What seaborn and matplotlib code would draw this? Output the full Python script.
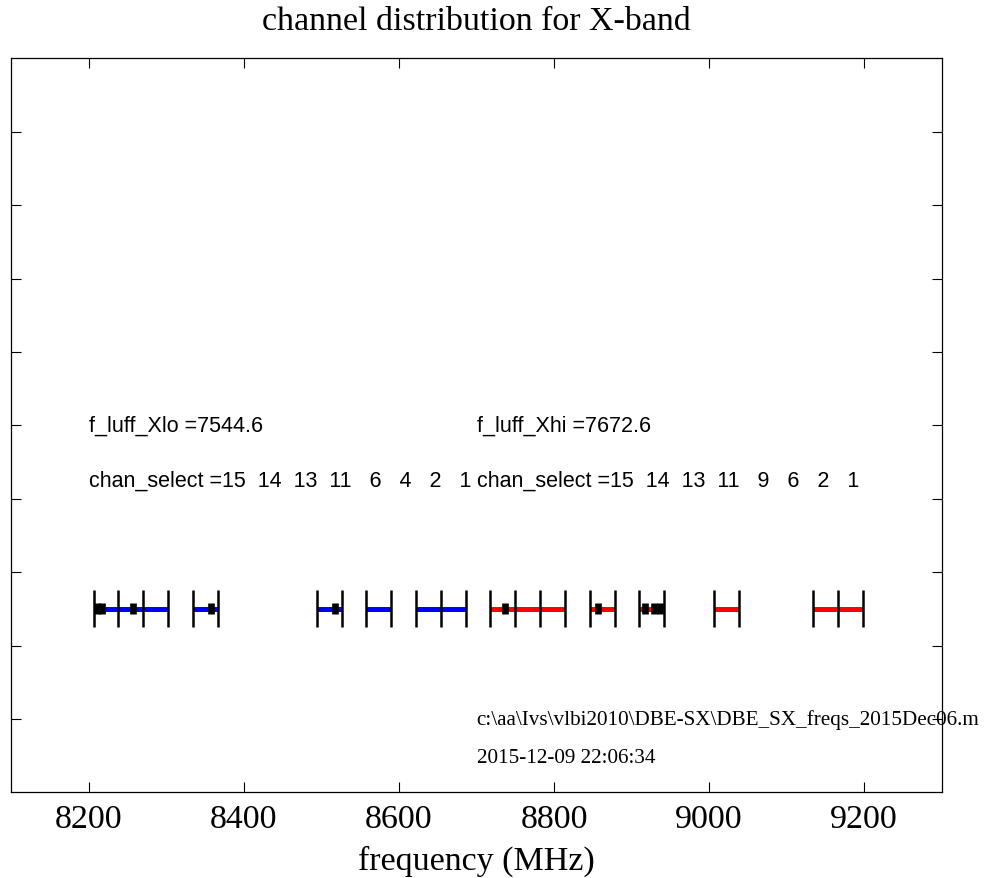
"""
X-band channel distribution plot (lo / hi LO sidebands)
"""
import pandas as pd
import seaborn as sns
import matplotlib
matplotlib.use("Agg")
import matplotlib.pyplot as plt

# LO frequencies (MHz)
f_luff_Xlo = 7544.6
f_luff_Xhi = 7672.6

# selected channels and their lower edges (MHz)
lo_chan = [15, 14, 13, 11, 6, 4, 2, 1]
lo_start = [8206, 8238, 8270, 8334, 8494, 8558, 8622, 8654]
hi_chan = [15, 14, 13, 11, 9, 6, 2, 1]
hi_start = [8718, 8750, 8782, 8846, 8910, 9006, 9134, 9166]
chan_width = 32

# black markers on the channels (MHz)
marker_freq = [8210.8, 8217.3, 8257.3, 8357.9, 8517.5,
               8737.3, 8857.0, 8917.4, 8929.0, 8936.8]

src_file = r"c:\aa\Ivs\vlbi2010\DBE-SX\DBE_SX_freqs_2015Dec06.m"
time_stamp = "2015-12-09 22:06:34"

y_bar = 2.5

sns.set_style("white")
plt.rcParams["text.color"] = "black"
plt.rcParams["axes.labelcolor"] = "black"
plt.rcParams["xtick.color"] = "black"
plt.rcParams["ytick.color"] = "black"
serif = ["Liberation Serif", "DejaVu Serif"]
sans = ["Liberation Sans", "DejaVu Sans"]

# long-form table of channel segments
rows = []
for band, chans, starts in [("lo", lo_chan, lo_start), ("hi", hi_chan, hi_start)]:
    for c, s in zip(chans, starts):
        seg = f"{band}{c}"
        rows.append({"band": band, "seg": seg, "freq": s, "y": y_bar})
        rows.append({"band": band, "seg": seg, "freq": s + chan_width, "y": y_bar})
df = pd.DataFrame(rows)

fig = plt.figure(figsize=(10.02, 8.79), dpi=100)
ax = fig.add_axes([0.0113, 0.0975, 0.9285, 0.835])

sns.lineplot(data=df, x="freq", y="y", hue="band", units="seg", estimator=None,
             palette={"lo": "blue", "hi": "red"}, linewidth=3.6, legend=False,
             ax=ax, zorder=2)
for ln in ax.lines:
    ln.set_solid_capstyle("butt")

# channel edges
edges = sorted(set(list(df["freq"])))
ax.vlines(edges, y_bar - 0.25, y_bar + 0.25, colors="black", linewidth=1.8, zorder=3)

# markers
ax.vlines(marker_freq, y_bar - 0.073, y_bar + 0.073, colors="black",
          linewidth=4.8, zorder=4)

# annotations
ax.text(8200, 5.0, f"f_luff_Xlo ={f_luff_Xlo}", family=sans, fontsize=15.5, va="center")
ax.text(8700, 5.0, f"f_luff_Xhi ={f_luff_Xhi}", family=sans, fontsize=15.5, va="center")
lo_str = "".join(f"{c:4d}" for c in lo_chan).lstrip()
hi_str = "".join(f"{c:4d}" for c in hi_chan).lstrip()
ax.text(8200, 4.25, f"chan_select ={lo_str}", family=sans, fontsize=15.5, va="center")
ax.text(8700, 4.25, f"chan_select ={hi_str}", family=sans, fontsize=15.5, va="center")
ax.text(8700, 1.0, src_file, family=serif, fontsize=15.2, va="center")
ax.text(8700, 0.48, time_stamp, family=serif, fontsize=15.2, va="center")

ax.set_xlim(8100, 9300)
ax.set_ylim(0, 10)
ax.set_xticks([8200, 8400, 8600, 8800, 9000, 9200])
ax.set_yticks(range(1, 10))
ax.set_yticklabels([])
ax.tick_params(direction="in", length=7, width=0.8, top=True, right=True,
               left=True, bottom=True, labelsize=24.5, pad=8, colors="black")
for lab in ax.get_xticklabels():
    lab.set_family(serif)
for sp in ax.spines.values():
    sp.set_linewidth(0.9)
    sp.set_color("black")

ax.set_xlabel("frequency (MHz)", family=serif, fontsize=24.5, labelpad=7.5)
ax.set_ylabel("")
ax.set_title("channel distribution for X-band", family=serif, fontsize=24.5, pad=21)

fig.savefig("out.png", dpi=100)
